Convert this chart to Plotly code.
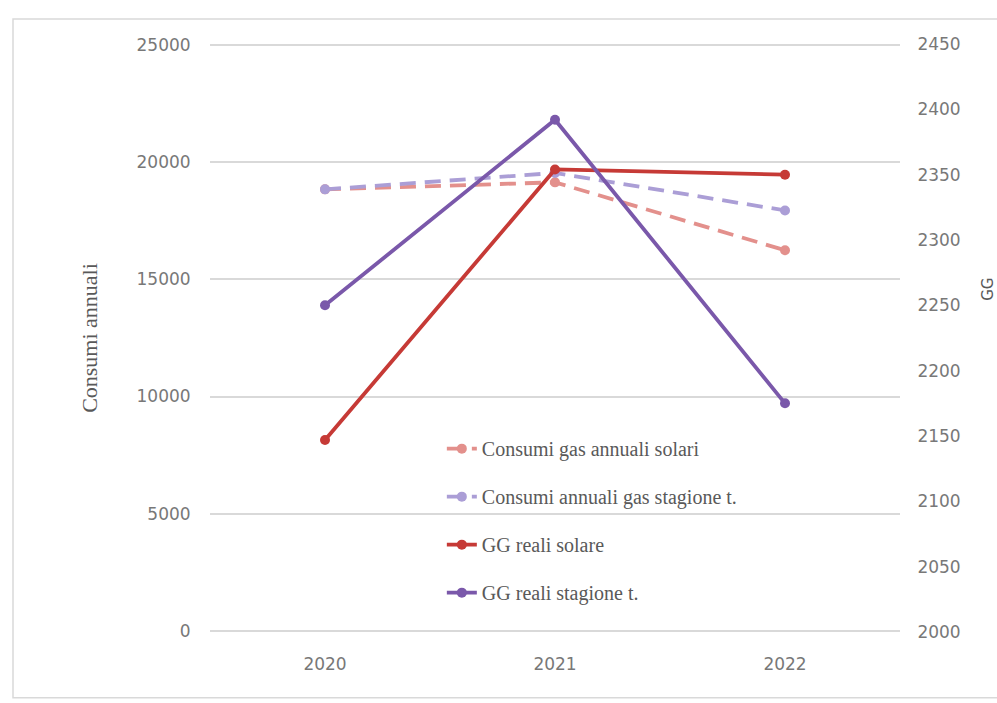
import plotly.graph_objects as go

years = ["2020", "2021", "2022"]

consumi_solari = [18850, 19150, 16250]
consumi_stagione = [18850, 19550, 17950]
gg_solare = [2147, 2354, 2350]
gg_stagione = [2250, 2392, 2175]

left_ticks = [0, 5000, 10000, 15000, 20000, 25000]
right_ticks = [2000, 2050, 2100, 2150, 2200, 2250, 2300, 2350, 2400, 2450]

tick_font = dict(family="DejaVu Sans, sans-serif", size=17, color="#787878")
serif = "Liberation Serif, DejaVu Serif, serif"
dash_pattern = "16px,9px"

fig = go.Figure()

fig.add_trace(go.Scatter(
    x=years, y=consumi_solari, name="Consumi gas annuali solari",
    mode="lines+markers", legendgroup="a",
    line=dict(color="#e3908c", width=3.8, dash=dash_pattern),
    marker=dict(size=10, color="#e3908c"),
))
fig.add_trace(go.Scatter(
    x=years, y=consumi_stagione, name="Consumi annuali gas stagione t.",
    mode="lines+markers", legendgroup="b",
    line=dict(color="#ab9ed6", width=3.8, dash=dash_pattern),
    marker=dict(size=10, color="#ab9ed6"),
))
fig.add_trace(go.Scatter(
    x=years, y=gg_solare, name="GG reali solare",
    mode="lines+markers", legendgroup="c", yaxis="y2",
    line=dict(color="#c63a36", width=3.8),
    marker=dict(size=10, color="#c63a36"),
))
fig.add_trace(go.Scatter(
    x=years, y=gg_stagione, name="GG reali stagione t.",
    mode="lines+markers", legendgroup="d", yaxis="y2",
    line=dict(color="#7a58aa", width=3.8),
    marker=dict(size=10, color="#7a58aa"),
))

fig.update_layout(
    width=997, height=703,
    margin=dict(l=210, r=97, t=44, b=71),
    paper_bgcolor="white", plot_bgcolor="white",
    showlegend=True,
    xaxis=dict(
        type="category", range=[-0.5, 2.5],
        showgrid=False, zeroline=False, showline=False,
        tickfont=tick_font, ticks="outside", ticklen=17, tickcolor="rgba(0,0,0,0)",
    ),
    yaxis=dict(
        range=[-60, 25060], tickvals=left_ticks,
        ticktext=[str(v) for v in left_ticks],
        showgrid=True, gridcolor="#d9d9d9", gridwidth=1.5,
        zeroline=True, zerolinecolor="#d9d9d9", zerolinewidth=1.5,
        showline=False, tickfont=tick_font,
        ticks="outside", ticklen=15, tickcolor="rgba(0,0,0,0)",
        title=dict(text="Consumi annuali",
                   font=dict(family=serif, size=22, color="#595959"),
                   standoff=32),
    ),
    yaxis2=dict(
        overlaying="y", side="right",
        range=[2000, 2450], tickvals=right_ticks,
        ticktext=[str(v) for v in right_ticks],
        showgrid=False, zeroline=False, showline=False,
        tickfont=tick_font,
        ticks="outside", ticklen=13, tickcolor="rgba(0,0,0,0)",
    ),
    legend=dict(
        x=0.336, y=0.345, xanchor="left", yanchor="top",
        bgcolor="rgba(0,0,0,0)", borderwidth=0,
        font=dict(family=serif, size=20, color="#595959"),
        tracegroupgap=19,
    ),
    annotations=[dict(
        text="GG", xref="paper", yref="paper", x=1.1435, y=0.582,
        textangle=-90, showarrow=False,
        font=dict(family="DejaVu Sans, sans-serif", size=15, color="#595959"),
    )],
    shapes=[dict(
        type="rect", xref="paper", yref="paper",
        x0=-0.2855, x1=1.2, y0=-0.112, y1=1.0425,
        line=dict(color="#d9d9d9", width=1.5), fillcolor="rgba(0,0,0,0)",
        layer="below",
    )],
)

fig.write_html("out.html")
